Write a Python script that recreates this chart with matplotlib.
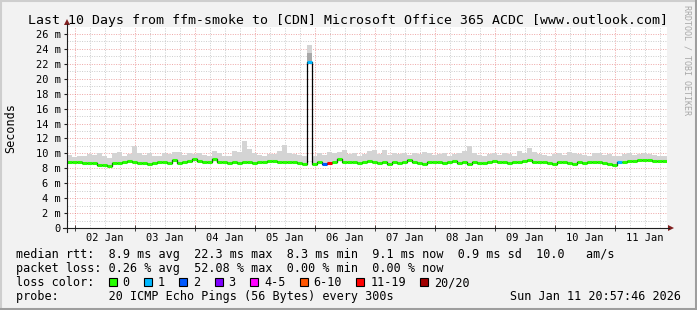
import numpy as np
import matplotlib.pyplot as plt
from matplotlib.patches import Rectangle, Polygon

W, H = 697, 310
MONO = 'DejaVu Sans Mono'

# 2 hour samples, first one starts Fri Jan 01 20:57:46
median_ms = [
    8.9, 8.8, 8.8, 8.7, 8.65, 8.7, 8.5, 8.4, 8.25, 8.7, 8.75, 8.8,
    8.95, 8.9, 8.75, 8.7, 8.6, 8.75, 8.8, 8.8, 8.7, 9.05, 8.75, 8.8,
    9.0, 9.25, 9.0, 8.9, 8.85, 9.3, 8.9, 8.8, 8.75, 8.8, 8.75, 8.8,
    8.8, 8.7, 8.8, 8.8, 8.95, 9.0, 8.85, 8.8, 8.9, 8.8, 8.75, 8.6,
    22.3, 8.6, 8.9, 8.55, 8.7, 8.8, 9.2, 8.85, 8.8, 8.9, 8.75, 8.85,
    9.0, 8.8, 8.7, 8.9, 8.6, 8.8, 8.75, 8.9, 9.05, 8.8, 8.7, 8.6,
    8.85, 8.8, 8.9, 8.7, 8.8, 8.95, 8.7, 8.85, 8.6, 8.9, 8.75, 8.7,
    8.85, 9.0, 8.9, 8.8, 8.7, 8.85, 8.9, 9.0, 9.05, 8.9, 8.8, 8.85,
    8.7, 8.6, 8.8, 8.9, 8.75, 8.55, 8.8, 8.7, 8.8, 8.9, 8.85, 8.7,
    8.6, 8.45, 8.8, 8.9, 9.0, 9.0, 9.1, 9.05, 9.1, 9.0, 8.95, 9.0,
]
smoke_max_ms = [
    9.8, 9.5, 9.6, 9.7, 9.9, 9.8, 10.0, 9.6, 9.4, 10.1, 10.2, 9.7,
    9.9, 11.0, 10.0, 9.8, 10.1, 9.6, 9.7, 10.0, 9.9, 10.2, 10.2, 9.8,
    10.0, 9.9, 10.1, 9.8, 9.7, 10.3, 10.0, 9.7, 9.6, 10.3, 10.2, 11.6,
    10.6, 10.0, 9.8, 9.7, 9.9, 9.9, 10.3, 11.1, 10.0, 9.9, 9.8, 9.7,
    24.5, 9.6, 10.1, 9.8, 10.2, 10.0, 10.2, 10.4, 9.9, 10.1, 9.7, 9.9,
    10.3, 10.4, 9.9, 10.5, 9.8, 10.0, 9.9, 10.1, 9.8, 10.0, 9.9, 10.2,
    10.0, 9.8, 9.9, 10.1, 9.7, 9.9, 10.0, 10.3, 11.0, 10.0, 9.8, 9.7,
    9.9, 10.0, 9.8, 10.1, 9.9, 9.7, 10.3, 10.0, 10.7, 10.2, 9.9, 9.8,
    9.7, 9.9, 10.0, 9.8, 10.2, 10.1, 9.9, 9.8, 9.7, 10.0, 10.1, 9.8,
    9.9, 9.7, 9.6, 9.9, 10.0, 9.8, 9.9, 10.1, 9.9, 9.8, 9.7, 9.6,
]
# sample index -> lost pings (out of 20)
lost_pings = {48: 1, 51: 2, 52: 12, 110: 1}
spike_index = 48
spike_dark_top = 23.5

y_labels = list(range(0, 27, 2))
day_labels = ['02 Jan', '03 Jan', '04 Jan', '05 Jan', '06 Jan',
              '07 Jan', '08 Jan', '09 Jan', '10 Jan', '11 Jan']
first_midnight = 0.12655   # Jan 02 00:00 in days after start

loss_names = ['0', '1', '2', '3', '4-5', '6-10', '11-19', '20/20']
loss_colors = ['#26ff00', '#00b8ff', '#0059ff', '#7e00ff', '#ff00ff',
               '#ff5500', '#ff0000', '#a10000']
loss_limits = [0, 1, 2, 3, 5, 10, 19, 20]


def loss_color(n):
    for lim, c in zip(loss_limits, loss_colors):
        if n <= lim:
            return c
    return loss_colors[-1]


fig = plt.figure(figsize=(W / 100, H / 100), dpi=100)
fig.patch.set_facecolor('#f2f2f2')

ax = fig.add_axes([67 / W, (H - 228) / H, 600 / W, 201 / H])
ax.set_facecolor('white')
ax.set_xlim(0, 10)
ax.set_ylim(0, 201 / 7.46)
for s in ax.spines.values():
    s.set_visible(False)

# grid
dots = (0, (1, 1.5))
for k in range(-1, 40):
    x = first_midnight + k * 0.25
    if 0 < x < 10:
        major = k % 4 == 0
        ax.axvline(x, color='#de4f4f' if major else '#8f8f8f',
                   alpha=0.5 if major else 0.45, lw=0.7, ls=dots, zorder=1)
for v in range(1, 27):
    major = v % 2 == 0
    ax.axhline(v, color='#de4f4f' if major else '#8f8f8f',
               alpha=0.5 if major else 0.45, lw=0.7, ls=dots, zorder=1)

# data
n = len(median_ms)
t = np.arange(n + 1) / 12.0
med = np.array(median_ms)
top = np.array(smoke_max_ms)
ax.fill_between(t, np.append(med, med[-1]), np.append(top, top[-1]),
                step='post', color='#d4d4d4', lw=0, zorder=2)
ax.fill_between(t[spike_index:spike_index + 2], med[spike_index], spike_dark_top,
                step='post', color='#a8a8a8', lw=0, zorder=2)
ax.step(t, np.append(med, med[-1]), where='post', color='black', lw=0.9, zorder=3)
cols = [loss_color(lost_pings.get(i, 0)) for i in range(n)]
ax.hlines(med, t[:-1], t[1:], colors=cols, lw=2.2, capstyle='butt', zorder=4)

# ticks
ax.set_yticks(y_labels, [f'{v} m' if v else '0' for v in y_labels])
noons = [first_midnight + 0.5 + k for k in range(len(day_labels))]
ax.set_xticks(noons, day_labels)
ax.set_xticks([first_midnight + k for k in range(10)], minor=True)
ax.tick_params(axis='y', length=2, pad=2.5, labelsize=7.5, color='#1f1f1f')
ax.tick_params(axis='x', which='major', length=0, pad=3.5, labelsize=7.5)
ax.tick_params(axis='x', which='minor', length=4, direction='inout', color='#1f1f1f')
ax.tick_params(axis='y', which='minor', length=0)
for lab in ax.get_xticklabels() + ax.get_yticklabels():
    lab.set_family(MONO)

# pixel overlay for frame, axes arrows and legend
ov = fig.add_axes([0, 0, 1, 1])
ov.set_xlim(0, W)
ov.set_ylim(H, 0)
ov.axis('off')
ov.patch.set_alpha(0)
ov.set_zorder(5)

ov.plot([0, W], [1, 1], color='#cecece', lw=1.5)
ov.plot([1, 1], [0, H], color='#cecece', lw=1.5)
ov.plot([0, W], [H - 1.5, H - 1.5], color='#9e9e9e', lw=2.2)
ov.plot([W - 1.5, W - 1.5], [0, H], color='#9e9e9e', lw=2.2)

ov.plot([63, 669], [228, 228], color='#1f1f1f', lw=0.8)
ov.plot([67, 67], [232, 24], color='#1f1f1f', lw=0.8)
ov.add_patch(Polygon([(668, 225), (668, 231), (674, 228)], closed=True, color='#801f1f', lw=0))
ov.add_patch(Polygon([(64, 25), (70, 25), (67, 19)], closed=True, color='#801f1f', lw=0))

title = 'Last 10 Days from ffm-smoke to [CDN] Microsoft Office 365 ACDC [www.outlook.com]'
ov.text(347.5, 24, title, ha='center', va='baseline', fontsize=9.55, family=MONO)
ov.text(11, 128, 'Seconds', rotation=90, ha='center', va='center', fontsize=8.5, family=MONO)
ov.text(687, 5, 'RRDTOOL / TOBI OETIKER', rotation=270, ha='center', va='top',
        fontsize=6, family=MONO, color='#a8a8a8')

fs = 8.5
ov.text(16, 258, 'median rtt:  8.9 ms avg  22.3 ms max  8.3 ms min  9.1 ms now  0.9 ms sd  10.0   am/s',
        va='baseline', fontsize=fs, family=MONO)
ov.text(16, 272, 'packet loss: 0.26 % avg  52.08 % max  0.00 % min  0.00 % now',
        va='baseline', fontsize=fs, family=MONO)
ov.text(16, 286, 'loss color:', va='baseline', fontsize=fs, family=MONO)
ov.text(16, 300, 'probe:       20 ICMP Echo Pings (56 Bytes) every 300s',
        va='baseline', fontsize=fs, family=MONO)
ov.text(681, 300, 'Sun Jan 11 20:57:46 2026', ha='right', va='baseline', fontsize=fs, family=MONO)

bx = 108.5
for name, c in zip(loss_names, loss_colors):
    ov.add_patch(Rectangle((bx, 278), 8, 8, facecolor=c, edgecolor='black', lw=0.8))
    ov.text(bx + 14, 286, name, va='baseline', fontsize=fs, family=MONO)
    bx += 14 + 7.12 * (len(name) + 2)

fig.savefig('out.png', dpi=100, facecolor=fig.get_facecolor())
